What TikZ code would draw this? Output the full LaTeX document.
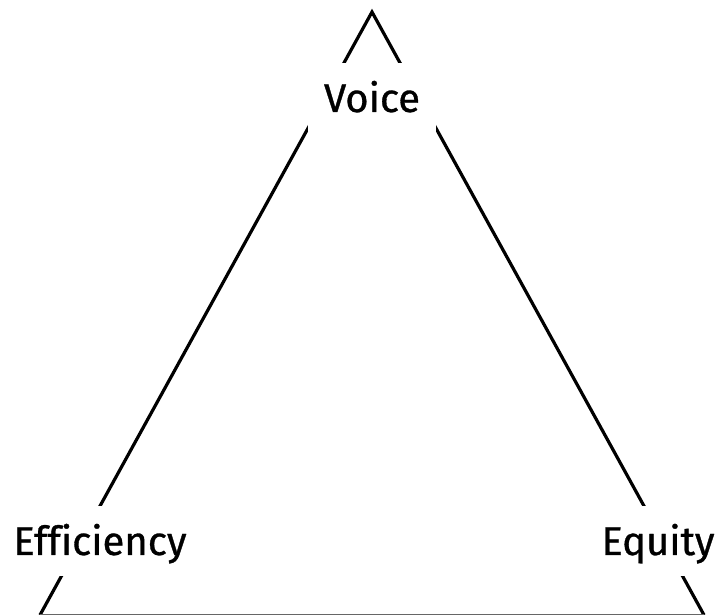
\documentclass[tikz,border=0pt]{standalone}
\usepackage{fontspec}
\setmainfont{Fira Sans}[Ligatures=NoCommon, UprightFeatures={FakeBold=0.8}]
\begin{document}
\begin{tikzpicture}[x=1pt,y=1pt,
  edge/.style={line width=3.2pt, black},
  lab/.style={fill=white, font=\fontsize{40}{40}\selectfont, text height=28pt, text depth=0pt,
    inner xsep=16pt, inner ysep=21pt, anchor=base}]
\useasboundingbox (0,0) rectangle (718,615);
\coordinate (apex) at (372,603);
\coordinate (bl) at (40,0);
\coordinate (br) at (704,0);
\draw[edge, line join=miter] (bl) -- (apex) -- (br);
\draw[line width=1.4pt, black!60] (bl) -- (br);
\node[lab] (voice) at (372,503) {Voice};
\node[lab] (eff) at (100,60) {Ef\kern0ptf\kern0pticiency};
\node[lab] (eq) at (658,60) {Equity};
\end{tikzpicture}
\end{document}
